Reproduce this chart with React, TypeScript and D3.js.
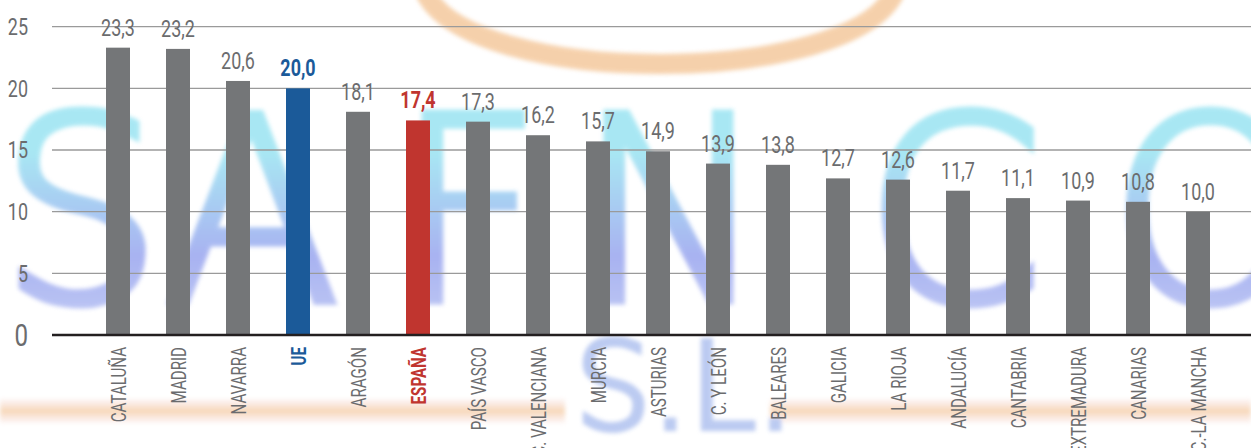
import React from "react";
import * as d3 from "d3";

const categories = [
  "CATALUÑA", "MADRID", "NAVARRA", "UE", "ARAGÓN", "ESPAÑA", "PAÍS VASCO",
  "C. VALENCIANA", "MURCIA", "ASTURIAS", "C. Y LEÓN", "BALEARES", "GALICIA",
  "LA RIOJA", "ANDALUCÍA", "CANTABRIA", "EXTREMADURA", "CANARIAS", "C.-LA MANCHA",
];
const values = [23.3, 23.2, 20.6, 20.0, 18.1, 17.4, 17.3, 16.2, 15.7, 14.9, 13.9, 13.8, 12.7, 12.6, 11.7, 11.1, 10.9, 10.8, 10.0];
const yTicks = [0, 5, 10, 15, 20, 25];
const highlight: Record<string, string> = { UE: "#1b5a99", "ESPAÑA": "#c0352f" };
const watermarkLetters = ["S", "A", "F", "N", "C", "O"];

const W = 1251;
const H = 448;
const FONT = "Roboto, 'Liberation Sans', sans-serif";
const GREY_BAR = "#747678";
const GREY_TEXT = "#6b6c6e";

export default function App() {
  const x = d3.scaleBand<string>().domain(categories).range([88, 1228]).paddingInner(0.6).paddingOuter(0.3);
  const y = d3.scaleLinear().domain([0, 25]).range([335, 26.7]);
  const fmt = (v: number) => v.toFixed(1).replace(".", ",");
  const wmX = [0, 165, 395, 577, 865, 1110];
  const arcPath = (() => {
    const p = d3.path();
    p.moveTo(425, -8);
    p.bezierCurveTo(470, 88, 850, 88, 895, -8);
    return p.toString();
  })();

  return (
    <svg width={W} height={H} style={{ position: "absolute", left: 0, top: 0, background: "#fff" }}>
      <defs>
        <linearGradient id="wm" x1="0" y1="0" x2="0" y2="1">
          <stop offset="0.3" stopColor="#6fd8ec" />
          <stop offset="0.65" stopColor="#6f80e8" />
          <stop offset="1" stopColor="#a9b8f0" />
        </linearGradient>
        <linearGradient id="band" x1="0" y1="0" x2="0" y2="1">
          <stop offset="0" stopColor="#f3c9c4" stopOpacity="0.3" />
          <stop offset="0.5" stopColor="#f2bd86" stopOpacity="1" />
          <stop offset="1" stopColor="#f3c9c4" stopOpacity="0.3" />
        </linearGradient>
        <filter id="blur" x="-5%" y="-5%" width="110%" height="110%">
          <feGaussianBlur stdDeviation="2.2" />
        </filter>
      </defs>
      <rect width={W} height={H} fill="#fff" />
      {/* decorative watermark */}
      <g filter="url(#blur)" opacity={0.6}>
        <path d={arcPath} fill="none" stroke="#f0b274" strokeWidth={20} />
        <rect x={0} y={399} width={565} height={24} fill="url(#band)" />
        <rect x={770} y={399} width={481} height={24} fill="url(#band)" />
        {watermarkLetters.map((l, i) => (
          <text key={i} x={wmX[i]} y={300} fontFamily="'DejaVu Sans'" fontWeight={200} fontSize={255}
            fill="url(#wm)" stroke="url(#wm)" strokeWidth={9}>{l}</text>
        ))}
        <text x={575} y={428} fontFamily="'DejaVu Sans'" fontWeight={200} fontSize={120}
          fill="#8fa8e8" stroke="#8fa8e8" strokeWidth={6}>S.L.</text>
      </g>
      {/* gridlines */}
      {yTicks.filter((t) => t > 0).map((t) => (
        <line key={t} x1={52} x2={W} y1={y(t)} y2={y(t)} stroke="#9a9a9a" strokeWidth={1.3} />
      ))}
      {/* y labels */}
      {yTicks.map((t) => (
        <text key={t} transform={`translate(28,${y(t)}) scale(0.78,1)`} textAnchor="end" dy="0.36em"
          fontFamily={FONT} fontWeight={400} fontSize={t === 0 ? 31 : 23} fill={GREY_TEXT}>{t}</text>
      ))}
      {/* bars */}
      {categories.map((c, i) => (
        <rect key={c} x={x(c)} y={y(values[i])} width={x.bandwidth()} height={y(0) - y(values[i])}
          fill={highlight[c] || GREY_BAR} />
      ))}
      <line x1={52} x2={W} y1={y(0)} y2={y(0)} stroke="#231f20" strokeWidth={2.5} />
      {/* value labels */}
      {categories.map((c, i) => (
        <text key={c} transform={`translate(${(x(c) as number) + x.bandwidth() / 2},${y(values[i]) - 12}) scale(0.78,1)`}
          textAnchor="middle" fontFamily={FONT} fontWeight={highlight[c] ? 700 : 400} fontSize={23}
          fill={highlight[c] || GREY_TEXT}>{fmt(values[i])}</text>
      ))}
      {/* category labels */}
      {categories.map((c) => (
        <text key={c} transform={`translate(${(x(c) as number) + x.bandwidth() / 2},347) rotate(-90) scale(0.72,1)`}
          textAnchor="end" dy="0.36em" fontFamily={FONT} fontWeight={highlight[c] ? 700 : 400} fontSize={21}
          fill={highlight[c] || GREY_TEXT}>{c}</text>
      ))}
    </svg>
  );
}
